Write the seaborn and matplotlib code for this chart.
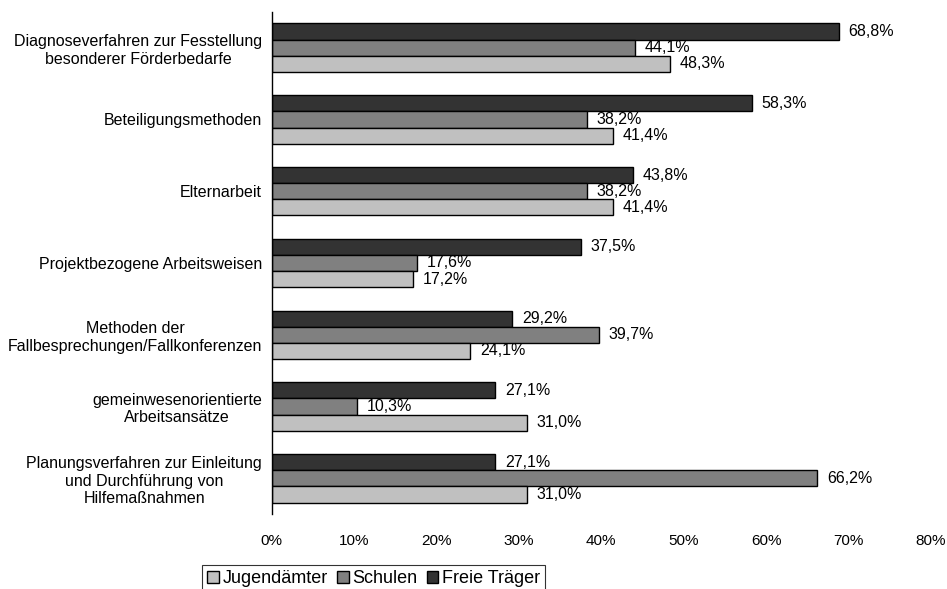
import matplotlib
matplotlib.use("Agg")
import matplotlib.pyplot as plt
import seaborn as sns
import pandas as pd
from matplotlib.patches import Patch
from matplotlib.ticker import FixedLocator, FuncFormatter

categories = [
    "Diagnoseverfahren zur Fesstellung\nbesonderer Förderbedarfe",
    "Beteiligungsmethoden",
    "Elternarbeit",
    "Projektbezogene Arbeitsweisen",
    "Methoden der\nFallbesprechungen/Fallkonferenzen",
    "gemeinwesenorientierte\nArbeitsansätze",
    "Planungsverfahren zur Einleitung\nund Durchführung von\nHilfemaßnahmen",
]
freie_traeger = [68.8, 58.3, 43.8, 37.5, 29.2, 27.1, 27.1]
schulen = [44.1, 38.2, 38.2, 17.6, 39.7, 10.3, 66.2]
jugendaemter = [48.3, 41.4, 41.4, 17.2, 24.1, 31.0, 31.0]
series_names = ["Freie Träger", "Schulen", "Jugendämter"]
legend_order = ["Jugendämter", "Schulen", "Freie Träger"]
series_colors = {"Freie Träger": "#333333", "Schulen": "#808080", "Jugendämter": "#C0C0C0"}
xticks = [0, 10, 20, 30, 40, 50, 60, 70, 80]

sns.set_style("white")
plt.rcParams["font.family"] = ["Liberation Sans", "DejaVu Sans"]
plt.rcParams["font.size"] = 11
plt.rcParams["text.color"] = "black"
plt.rcParams["xtick.color"] = "black"
plt.rcParams["ytick.color"] = "black"
plt.rcParams["xtick.labelcolor"] = "black"
plt.rcParams["ytick.labelcolor"] = "black"

rows = []
for name, vals in zip(series_names, [freie_traeger, schulen, jugendaemter]):
    for c, v in zip(categories, vals):
        rows.append({"Kategorie": c, "Gruppe": name, "Wert": v})
df = pd.DataFrame(rows)

fig = plt.figure(figsize=(9.47, 5.89), dpi=100)
ax = fig.add_axes([0.287, 0.127, 0.696, 0.853])

sns.barplot(data=df, y="Kategorie", x="Wert", hue="Gruppe", hue_order=series_names,
            order=categories, palette=series_colors, orient="h", width=0.675,
            edgecolor="black", linewidth=1.0, saturation=1, ax=ax, legend=False)

for cont in ax.containers:
    vals = [b.get_width() for b in cont]
    ax.bar_label(cont, labels=[f"{v:.1f}%".replace(".", ",") for v in vals],
                 padding=7, fontsize=11.5, color="black")

ax.set_xlim(0, 80)
ax.set_ylim(len(categories) - 0.5, -0.5)
ax.set_xticks(xticks)
ax.xaxis.set_major_formatter(FuncFormatter(lambda v, p: f"{int(v)}%"))
ax.tick_params(axis="x", length=0, pad=14, labelsize=11, labelcolor="black")
ax.set_yticks(range(len(categories)))
ax.set_yticklabels(categories, ha="right", multialignment="center")
ax.tick_params(axis="y", which="major", length=0, pad=7, labelsize=11.5, labelcolor="black")
ax.yaxis.set_minor_locator(FixedLocator([i - 0.5 for i in range(len(categories) + 1)]))
ax.tick_params(axis="y", which="minor", length=5, width=1, color="black", direction="out")
ax.set_xlabel("")
ax.set_ylabel("")
for s in ["top", "right", "bottom"]:
    ax.spines[s].set_visible(False)
ax.spines["left"].set_color("black")
ax.spines["left"].set_linewidth(1)

handles = [Patch(facecolor=series_colors[n], edgecolor="black", linewidth=1) for n in legend_order]
leg = fig.legend(handles, legend_order, ncol=3,
                 loc="upper left", bbox_to_anchor=(202 / 947, 1 - 565 / 589),
                 frameon=True, fancybox=False, edgecolor="black", fontsize=13,
                 handlelength=0.65, handleheight=0.65, handletextpad=0.2,
                 columnspacing=0.5, borderpad=0.3, borderaxespad=0)
leg.get_frame().set_linewidth(0.8)
for t in leg.get_texts():
    t.set_color("black")

fig.savefig("out.png", dpi=100)
